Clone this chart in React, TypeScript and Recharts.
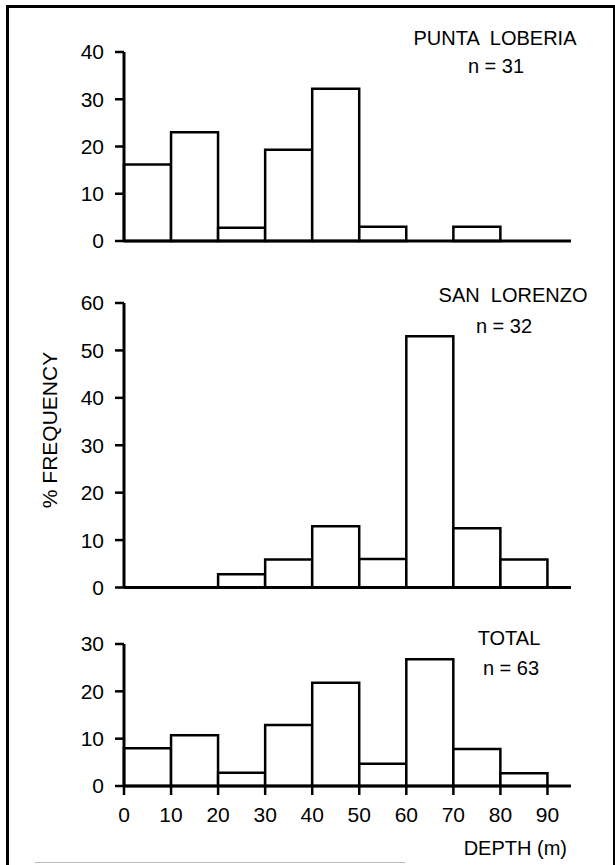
import React from 'react';
import { BarChart, Bar, XAxis, YAxis } from 'recharts';

// ---- data ----
const depthBinStarts = [0, 10, 20, 30, 40, 50, 60, 70, 80];
const binWidth = 10;
const depthTicks = [0, 10, 20, 30, 40, 50, 60, 70, 80, 90];
const puntaLoberiaPct = [16.2, 23.0, 2.8, 19.3, 32.2, 3.0, 0, 3.0, 0];
const sanLorenzoPct = [0, 0, 2.8, 5.9, 12.9, 6.0, 53.0, 12.5, 5.9];
const totalPct = [8.0, 10.7, 2.8, 12.9, 21.8, 4.7, 26.8, 7.8, 2.7];
const puntaTicks = [0, 10, 20, 30, 40];
const sanTicks = [0, 10, 20, 30, 40, 50, 60];
const totalTicks = [0, 10, 20, 30];
const panelTitles = ['PUNTA  LOBERIA', 'SAN  LORENZO', 'TOTAL'];
const panelN = ['n = 31', 'n = 32', 'n = 63'];
const yTitle = '% FREQUENCY';
const xTitle = 'DEPTH (m)';

const FONT = '"Liberation Sans", Arial, sans-serif';
const W = 615;
const PLOT_LEFT = 124;
const PLOT_RIGHT = 571;
const X_MAX = 95;
const Y_AXIS_W = 60;

function toRows(vals: number[]) {
  return depthBinStarts.map((s, i) => ({ mid: s + binWidth / 2, value: vals[i] }));
}

type PanelProps = {
  plotTop: number;
  plotH: number;
  yMax: number;
  yTicks: number[];
  values: number[];
  xTicks: number[];
  xLabels: boolean;
};

function Panel({ plotTop, plotH, yMax, yTicks, values, xTicks, xLabels }: PanelProps) {
  const topPad = 12;
  const xAxisH = xLabels ? 42 : 12;
  const H = topPad + plotH + xAxisH;
  return (
    <div style={{ position: 'absolute', left: 0, top: plotTop - topPad }}>
      <BarChart
        width={W}
        height={H}
        data={toRows(values)}
        margin={{ top: topPad, right: W - PLOT_RIGHT, left: PLOT_LEFT - Y_AXIS_W, bottom: 0 }}
        barCategoryGap={0}
        barGap={0}
      >
        <XAxis
          type="number"
          dataKey="mid"
          domain={[0, X_MAX]}
          ticks={xTicks}
          tickCount={10}
          interval={0}
          height={xAxisH}
          axisLine={{ stroke: '#000', strokeWidth: 3 }}
          tickLine={{ stroke: '#000', strokeWidth: 2.5 }}
          tickSize={9}
          tickMargin={12}
          tick={xLabels ? { fill: '#000', fontSize: 21, fontFamily: FONT } : false}
        />
        <YAxis
          type="number"
          domain={[0, yMax]}
          ticks={yTicks}
          interval={0}
          width={Y_AXIS_W}
          axisLine={{ stroke: '#000', strokeWidth: 3 }}
          tickLine={{ stroke: '#000', strokeWidth: 2.5 }}
          tickSize={9}
          tickMargin={11}
          tick={{ fill: '#000', fontSize: 21, fontFamily: FONT }}
        />
        <Bar
          dataKey="value"
          fill="#fff"
          stroke="#000"
          strokeWidth={2.5}
          isAnimationActive={false}
        />
      </BarChart>
    </div>
  );
}

function Txt({ x, y, children, anchor = 'center', rotate = false }: any) {
  const tx = anchor === 'center' ? '-50%' : anchor === 'end' ? '-100%' : '0';
  return (
    <div
      style={{
        position: 'absolute',
        left: x,
        top: y,
        transform: `translate(${tx}, -50%)${rotate ? ' rotate(-90deg)' : ''}`,
        transformOrigin: rotate ? 'center' : undefined,
        fontFamily: FONT,
        fontSize: 20,
        lineHeight: 1,
        whiteSpace: 'pre',
        color: '#000',
      }}
    >
      {children}
    </div>
  );
}

export default function App() {
  return (
    <div
      style={{
        position: 'absolute',
        left: 0,
        top: 0,
        width: W,
        height: 865,
        background: '#fff',
        overflow: 'hidden',
      }}
    >
      <div
        style={{
          position: 'absolute',
          left: 6,
          top: 5,
          width: 604,
          height: 865,
          borderLeft: '3px solid #000',
          borderTop: '3px solid #000',
          borderRight: '3px solid #000',
        }}
      />
      <div style={{ position: 'absolute', left: 35, top: 862, width: 370, height: 1, background: '#bbb' }} />

      <Panel plotTop={52} plotH={189} yMax={40} yTicks={puntaTicks} values={puntaLoberiaPct} xTicks={[0]} xLabels={false} />
      <Panel plotTop={303} plotH={284.5} yMax={60} yTicks={sanTicks} values={sanLorenzoPct} xTicks={[0]} xLabels={false} />
      <Panel plotTop={644} plotH={142} yMax={30} yTicks={totalTicks} values={totalPct} xTicks={depthTicks} xLabels={true} />

      <Txt x={495} y={38}>{panelTitles[0]}</Txt>
      <Txt x={496} y={66}>{panelN[0]}</Txt>
      <Txt x={513} y={295}>{panelTitles[1]}</Txt>
      <Txt x={504} y={326}>{panelN[1]}</Txt>
      <Txt x={509} y={638}>{panelTitles[2]}</Txt>
      <Txt x={511} y={668}>{panelN[2]}</Txt>
      <div
        style={{
          position: 'absolute',
          left: 49,
          top: 430,
          transform: 'translate(-50%, -50%) rotate(-90deg)',
          fontFamily: FONT,
          fontSize: 21,
          lineHeight: 1,
          whiteSpace: 'pre',
          color: '#000',
        }}
      >
        {yTitle}
      </div>
      <Txt x={567} y={848} anchor="end">{xTitle}</Txt>
    </div>
  );
}
